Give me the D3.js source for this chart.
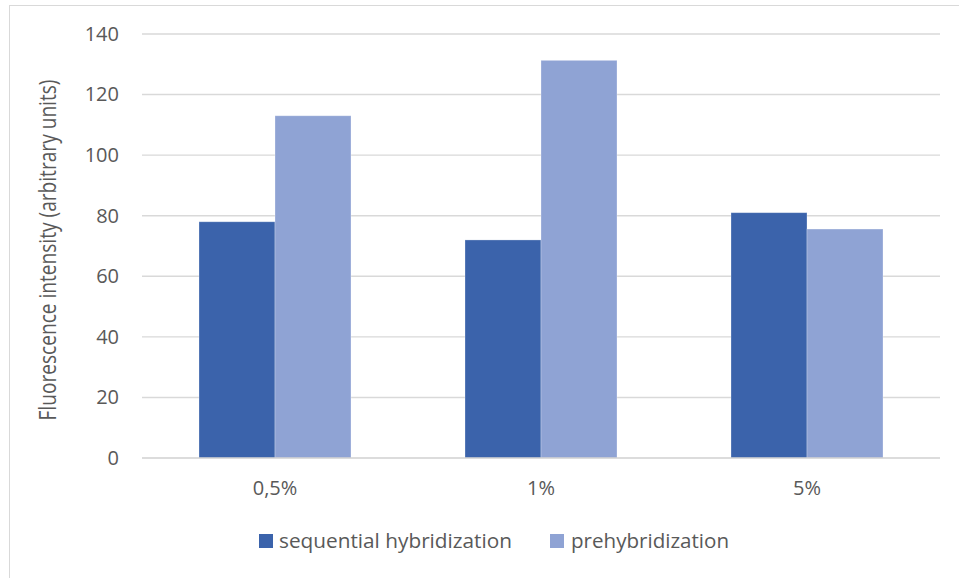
<!DOCTYPE html>
<html>
<head>
<meta charset="utf-8">
<script src="https://cdn.jsdelivr.net/npm/d3@7"></script>
<style>
  html, body { margin: 0; padding: 0; background: #fff; }
  svg text { font-family: "Open Sans", "Noto Sans", sans-serif; fill: #595959; }
</style>
</head>
<body>
<svg id="chart" width="959" height="578"></svg>
<script>
// Fluorescence intensity by concentration, two hybridization protocols
const categories = ["0,5%", "1%", "5%"];
const seriesNames = ["sequential hybridization", "prehybridization"];
const sequential = [78, 72, 81];
const prehybridization = [113, 131.3, 75.6];
const yTicks = [0, 20, 40, 60, 80, 100, 120, 140];
const colors = ["#3b63ab", "#8fa3d4"];

const svg = d3.select("#chart");
const W = 959, H = 578;
const margin = { left: 142, right: 19, top: 34, bottom: 120 };
const plotW = W - margin.left - margin.right;
const plotH = H - margin.top - margin.bottom;

// outer frame
svg.append("rect")
  .attr("x", 9.5).attr("y", 5.5)
  .attr("width", 960).attr("height", 590)
  .attr("fill", "none").attr("stroke", "#d9d9d9").attr("stroke-width", 1);

const g = svg.append("g").attr("transform", `translate(${margin.left},${margin.top})`);

const x = d3.scaleBand().domain(categories).range([0, plotW]).padding(0);
const y = d3.scaleLinear().domain([0, 140]).range([plotH, 0]);

// gridlines
g.append("g").selectAll("line").data(yTicks.filter(t => t > 0)).join("line")
  .attr("x1", 0).attr("x2", plotW)
  .attr("y1", d => y(d)).attr("y2", d => y(d))
  .attr("stroke", "#d9d9d9").attr("stroke-width", 1.4);

// y tick labels
const yAxis = d3.axisLeft(y).tickValues(yTicks).tickSize(0).tickPadding(23);
const yg = g.append("g").call(yAxis);
yg.select(".domain").remove();
yg.selectAll("text").attr("font-size", 20).attr("fill", "#595959")
  .style("font-family", '"Open Sans", sans-serif');

// bars: gap width 150% of a single bar
const barW = x.bandwidth() / (2 + 1.5);
const sub = d3.scaleBand().domain(seriesNames).range([0, barW * 2]);
const data = [sequential, prehybridization];

seriesNames.forEach((name, si) => {
  g.append("g").selectAll("rect").data(categories).join("rect")
    .attr("x", d => x(d) + (x.bandwidth() - 2 * barW) / 2 + sub(name))
    .attr("y", (d, i) => y(data[si][i]))
    .attr("width", sub.bandwidth())
    .attr("height", (d, i) => y(0) - y(data[si][i]))
    .attr("fill", colors[si])
    .attr("stroke", "#ffffff").attr("stroke-opacity", 0.35).attr("stroke-width", 0.8);
});

// baseline
g.append("line").attr("x1", 0).attr("x2", plotW)
  .attr("y1", y(0)).attr("y2", y(0))
  .attr("stroke", "#d0d0d0").attr("stroke-width", 1.6);

// category labels
const xAxis = d3.axisBottom(x).tickSize(0).tickPadding(23);
const xg = g.append("g").attr("transform", `translate(0,${plotH})`).call(xAxis);
xg.select(".domain").remove();
xg.selectAll("text").attr("font-size", 20).attr("fill", "#595959")
  .style("font-family", '"Open Sans", sans-serif');

// y axis title
svg.append("text")
  .attr("transform", `translate(56,${margin.top + plotH / 2 + 4}) rotate(-90)`)
  .attr("text-anchor", "middle")
  .attr("font-size", 23)
  .attr("textLength", 341).attr("lengthAdjust", "spacingAndGlyphs")
  .text("Fluorescence intensity (arbitrary units)");

// legend
const legendItems = [
  { name: seriesNames[0], color: colors[0], sx: 259, tx: 279, len: 233 },
  { name: seriesNames[1], color: colors[1], sx: 550, tx: 571, len: 158 }
];
const lg = svg.append("g");
legendItems.forEach(it => {
  lg.append("rect").attr("x", it.sx).attr("y", 534).attr("width", 14).attr("height", 14)
    .attr("fill", it.color);
  lg.append("text").attr("x", it.tx).attr("y", 548)
    .attr("font-size", 20)
    .attr("textLength", it.len).attr("lengthAdjust", "spacingAndGlyphs")
    .text(it.name);
});
</script>
</body>
</html>
